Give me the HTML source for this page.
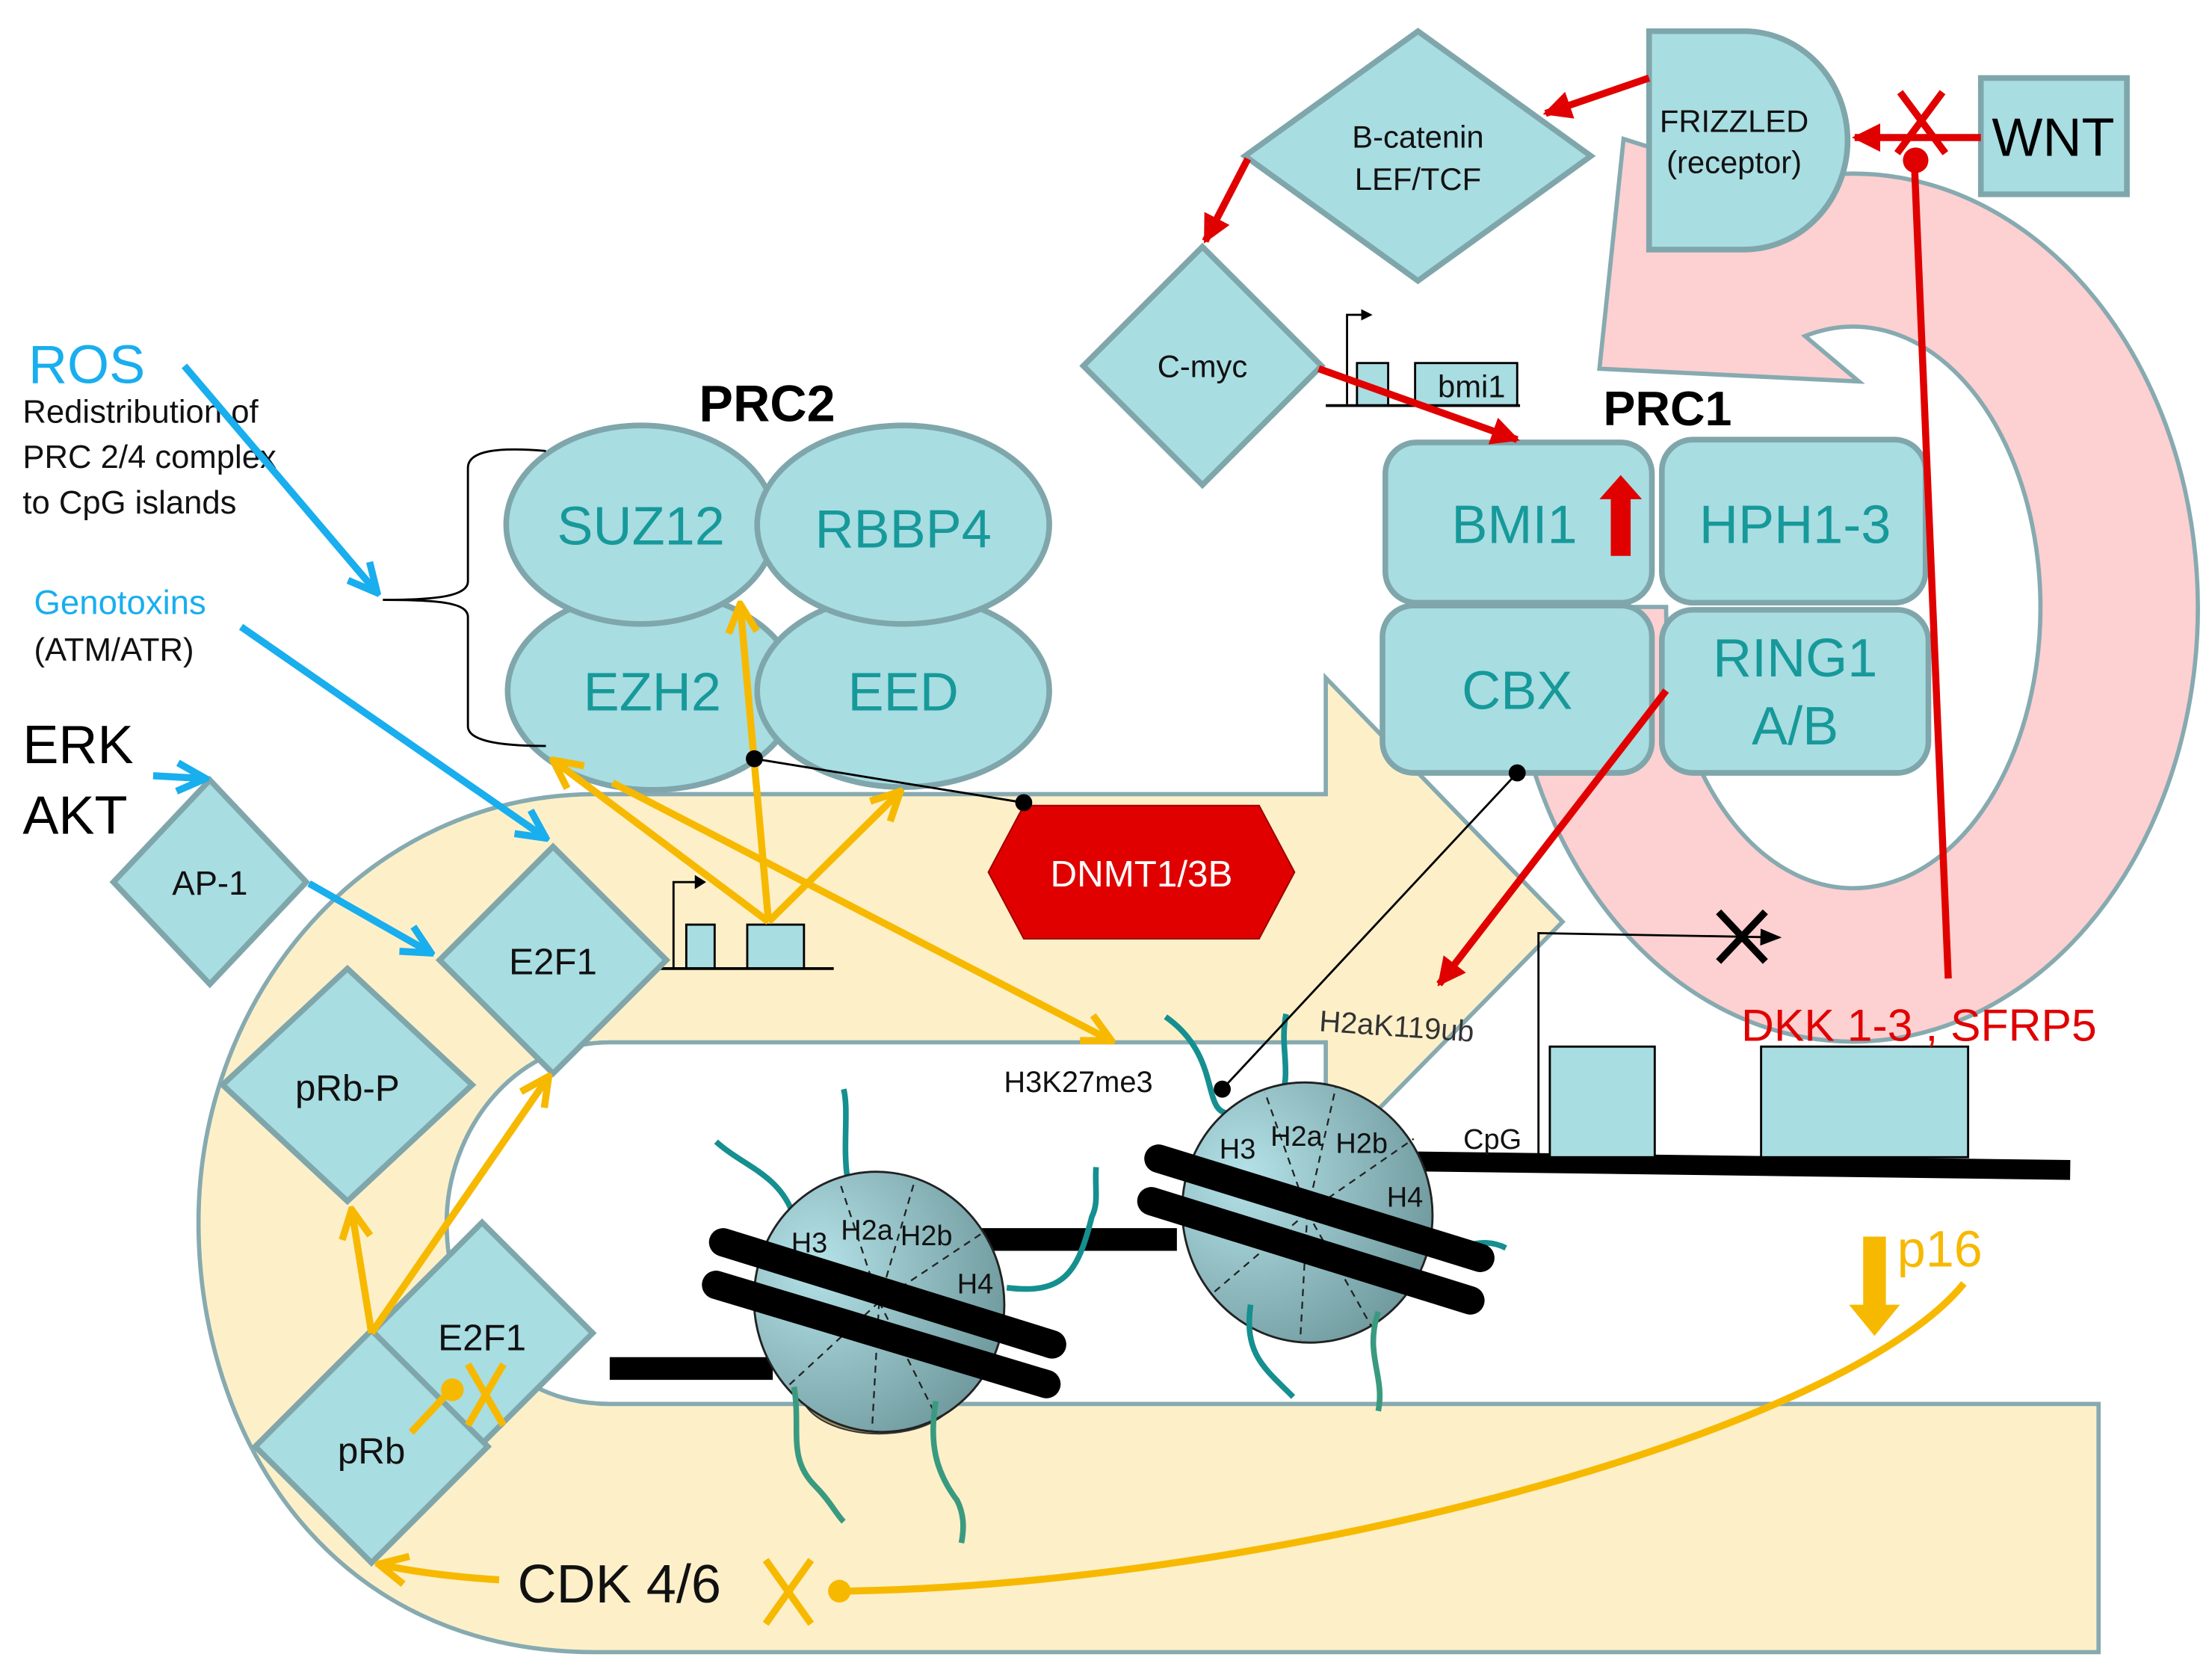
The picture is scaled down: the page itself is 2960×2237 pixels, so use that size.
<!DOCTYPE html>
<html><head><meta charset="utf-8"><style>
html,body{margin:0;padding:0;background:#fff;}
svg{display:block;}
text{font-family:"Liberation Sans",sans-serif;}
</style></head><body>
<svg width="2960" height="2237" viewBox="0 0 1560 1179" preserveAspectRatio="none" xmlns="http://www.w3.org/2000/svg">
<defs>
<marker id="ay" viewBox="0 0 10 10" refX="9" refY="5" markerWidth="5" markerHeight="5" orient="auto" markerUnits="strokeWidth"><path d="M1,1 L9,5 L1,9" fill="none" stroke="#f7b900" stroke-width="2"/></marker>
<marker id="ab" viewBox="0 0 10 10" refX="9" refY="5" markerWidth="5" markerHeight="5" orient="auto" markerUnits="strokeWidth"><path d="M1,1 L9,5 L1,9" fill="none" stroke="#19aeee" stroke-width="2"/></marker>
<marker id="ar" viewBox="0 0 10 10" refX="9" refY="5" markerWidth="4" markerHeight="4" orient="auto" markerUnits="strokeWidth"><path d="M0,0 L10,5 L0,10 Z" fill="#e00000"/></marker>
<marker id="ak" viewBox="0 0 10 10" refX="9" refY="5" markerWidth="10" markerHeight="10" orient="auto" markerUnits="strokeWidth"><path d="M0,1 L10,5 L0,9 Z" fill="#000"/></marker>
<radialGradient id="ng" cx="0.3" cy="0.3" r="0.8"><stop offset="0" stop-color="#b4e2e8"/><stop offset="1" stop-color="#6e989c"/></radialGradient>
</defs>

<path d="M1064,428 A243,306 0 1,0 1250,131 L1145,98 L1128,260 L1311,269 L1273,237 A132,198 0 1,1 1175,428 Z" fill="#fdd0d1" stroke="#86aab0" stroke-width="3"/>

<path d="M1480,1165 L420,1165 C230,1165 140,1010 140,862 C140,700 260,560 420,560 L935,560 L935,478 L1102,650 L935,820 L935,735 L430,735 C360,735 315,800 315,862 C315,935 360,990 430,990 L1480,990 Z" fill="#fdf0c9" stroke="#86aab0" stroke-width="3"/>

<line x1="430" y1="965" x2="545" y2="965" stroke="#000" stroke-width="16"/>
<line x1="690" y1="874" x2="830" y2="874" stroke="#000" stroke-width="16"/>
<line x1="1000" y1="819" x2="1460" y2="825" stroke="#000" stroke-width="14"/>

<g transform="translate(620,918)">
<path d="M-60,-60 C-70,-90 -95,-95 -115,-113" fill="none" stroke="#158f8f" stroke-width="4"/>
<path d="M-15,-65 C-30,-90 -20,-130 -25,-150" fill="none" stroke="#158f8f" stroke-width="4"/>
<path d="M90,-10 C130,-5 140,-20 150,-60 C155,-70 152,-80 153,-95" fill="none" stroke="#158f8f" stroke-width="4"/>
<ellipse cx="0" cy="63" rx="55" ry="30" fill="#9b9060" stroke="#333" stroke-width="1"/>
<ellipse cx="0" cy="0" rx="88" ry="92" transform="rotate(-15)" fill="url(#ng)" stroke="#222" stroke-width="1.5"/>
<g stroke="#222" stroke-width="1.2" stroke-dasharray="5,4" fill="none">
<line x1="0" y1="0" x2="-28" y2="-85"/><line x1="0" y1="0" x2="25" y2="-85"/><line x1="0" y1="0" x2="75" y2="-50"/>
<line x1="0" y1="0" x2="-65" y2="60"/><line x1="0" y1="0" x2="-5" y2="90"/><line x1="0" y1="0" x2="40" y2="80"/>
</g>
<text x="-62" y="-35" font-size="20" fill="#111">H3</text>
<text x="-27" y="-44" font-size="20" fill="#111">H2a</text>
<text x="15" y="-40" font-size="20" fill="#111">H2b</text>
<text x="55" y="-6" font-size="20" fill="#111">H4</text>
<g stroke="#000" stroke-width="20" stroke-linecap="round" fill="none">
<line x1="-110" y1="-42" x2="122" y2="30"/>
<line x1="-115" y1="-12" x2="118" y2="58"/>
</g>
<path d="M-60,60 C-55,90 -65,110 -45,130 C-35,140 -30,150 -25,155" fill="none" stroke="#3a9a80" stroke-width="4"/>
<path d="M40,70 C35,100 40,120 55,140 C60,150 60,160 58,170" fill="none" stroke="#3a9a80" stroke-width="4"/>
</g>

<g transform="translate(922,855)">
<path d="M-55,-70 C-75,-70 -60,-110 -100,-138" fill="none" stroke="#158f8f" stroke-width="4"/>
<path d="M-20,-75 C-10,-100 -20,-115 -15,-140" fill="none" stroke="#158f8f" stroke-width="4"/>
<path d="M88,20 C110,30 120,15 140,25" fill="none" stroke="#158f8f" stroke-width="4"/>
<ellipse cx="0" cy="0" rx="88" ry="92" transform="rotate(-15)" fill="url(#ng)" stroke="#222" stroke-width="1.5"/>
<g stroke="#222" stroke-width="1.2" stroke-dasharray="5,4" fill="none">
<line x1="0" y1="0" x2="-30" y2="-85"/><line x1="0" y1="0" x2="20" y2="-88"/><line x1="0" y1="0" x2="75" y2="-52"/>
<line x1="0" y1="0" x2="-68" y2="58"/><line x1="0" y1="0" x2="-5" y2="90"/><line x1="0" y1="0" x2="45" y2="80"/>
</g>
<text x="-62" y="-38" font-size="20" fill="#111">H3</text>
<text x="-26" y="-47" font-size="20" fill="#111">H2a</text>
<text x="20" y="-42" font-size="20" fill="#111">H2b</text>
<text x="56" y="-4" font-size="20" fill="#111">H4</text>
<g stroke="#000" stroke-width="20" stroke-linecap="round" fill="none">
<line x1="-105" y1="-38" x2="122" y2="32"/>
<line x1="-110" y1="-8" x2="115" y2="62"/>
</g>
<path d="M-40,65 C-45,100 -30,110 -10,130" fill="none" stroke="#158f8f" stroke-width="4"/>
<path d="M50,70 C40,100 55,115 50,140" fill="none" stroke="#3a9a80" stroke-width="4"/>
</g>

<polyline points="1085,815 1085,658 1255,661" fill="none" stroke="#000" stroke-width="1.5" marker-end="url(#ak)"/>
<path d="M1212,643 L1245,678 M1245,643 L1212,678" stroke="#000" stroke-width="5"/>
<rect x="1093" y="738" width="74" height="78" fill="#a8dde2" stroke="#000" stroke-width="1.5"/>
<rect x="1242" y="738" width="146" height="78" fill="#a8dde2" stroke="#000" stroke-width="1.5"/>
<text x="1032" y="810" font-size="20" fill="#111">CpG</text>
<text x="930" y="727" font-size="21" fill="#333" transform="rotate(4 930 727)">H2aK119ub</text>
<text x="708" y="770" font-size="21" fill="#111">H3K27me3</text>

<polyline points="475,682 475,622 492,622" fill="none" stroke="#000" stroke-width="1.5"/>
<path d="M490,617 L498,622 L490,627 Z" fill="#000"/>
<rect x="484" y="652" width="20" height="31" fill="#a8dde2" stroke="#000" stroke-width="1.5"/>
<rect x="527" y="652" width="40" height="31" fill="#a8dde2" stroke="#000" stroke-width="1.5"/>
<line x1="465" y1="683" x2="588" y2="683" stroke="#000" stroke-width="2"/>

<polyline points="950,285 950,222 962,222" fill="none" stroke="#000" stroke-width="1.5"/>
<path d="M960,218 L968,222 L960,226 Z" fill="#000"/>
<rect x="957" y="256" width="22" height="30" fill="#a8dde2" stroke="#000" stroke-width="1.5"/>
<rect x="998" y="256" width="72" height="30" fill="#a8dde2" stroke="#000" stroke-width="1.5"/>
<text x="1014" y="280" font-size="22" fill="#111">bmi1</text>
<line x1="935" y1="286" x2="1072" y2="286" stroke="#000" stroke-width="2"/>

<g fill="#a8dde2" stroke="#7fa6ab" stroke-width="4">
<ellipse cx="460" cy="487" rx="102" ry="70"/>
<ellipse cx="637" cy="487" rx="103" ry="68"/>
<ellipse cx="452" cy="370" rx="95" ry="70"/>
<ellipse cx="637" cy="370" rx="103" ry="70"/>
</g>
<g fill="#17999a" font-size="38" text-anchor="middle">
<text x="452" y="384">SUZ12</text><text x="637" y="386">RBBP4</text>
<text x="460" y="501">EZH2</text><text x="637" y="501">EED</text>
</g>
<text x="541" y="297" font-size="36" font-weight="bold" text-anchor="middle" fill="#000">PRC2</text>
<path d="M385,318 C350,315 330,318 330,330 L330,410 C330,420 310,423 270,423 C310,423 330,425 330,435 L330,512 C330,522 350,526 385,526" fill="none" stroke="#000" stroke-width="1.5"/>

<g fill="#a8dde2" stroke="#7fa6ab" stroke-width="4">
<rect x="977" y="312" width="188" height="113" rx="22"/>
<rect x="1172" y="310" width="186" height="115" rx="22"/>
<rect x="975" y="427" width="190" height="118" rx="22"/>
<rect x="1172" y="430" width="188" height="115" rx="22"/>
</g>
<g fill="#17999a" font-size="38" text-anchor="middle">
<text x="1068" y="383">BMI1</text><text x="1266" y="383">HPH1-3</text>
<text x="1070" y="500">CBX</text><text x="1266" y="477">RING1</text><text x="1266" y="525">A/B</text>
</g>
<text x="1176" y="300" font-size="34" font-weight="bold" text-anchor="middle" fill="#000">PRC1</text>
<path d="M1143,335 L1128,352 L1136,352 L1136,392 L1150,392 L1150,352 L1158,352 Z" fill="#e00000"/>

<path d="M1163,22 L1230,22 A73,77 0 0,1 1230,176 L1163,176 Z" fill="#a8dde2" stroke="#7fa6ab" stroke-width="4"/>
<text x="1223" y="93" font-size="22" text-anchor="middle" fill="#111">FRIZZLED</text>
<text x="1223" y="122" font-size="22" text-anchor="middle" fill="#111">(receptor)</text>
<rect x="1397" y="55" width="103" height="82" fill="#a8dde2" stroke="#7fa6ab" stroke-width="4"/>
<text x="1448" y="110" font-size="38" text-anchor="middle" fill="#000">WNT</text>
<polygon points="1000,22 1122,110 1000,198 878,110" fill="#a8dde2" stroke="#7fa6ab" stroke-width="4"/>
<text x="1000" y="104" font-size="22" text-anchor="middle" fill="#111">B-catenin</text>
<text x="1000" y="134" font-size="22" text-anchor="middle" fill="#111">LEF/TCF</text>
<polygon points="848,174 932,258 848,342 764,258" fill="#a8dde2" stroke="#7fa6ab" stroke-width="4"/>
<text x="848" y="266" font-size="22" text-anchor="middle" fill="#111">C-myc</text>

<polygon points="697,615 722,568 888,568 913,615 888,662 722,662" fill="#e00000" stroke="#9a0000" stroke-width="1"/>
<text x="805" y="625" font-size="26" text-anchor="middle" fill="#fff">DNMT1/3B</text>

<g fill="#a8dde2" stroke="#7fa6ab" stroke-width="4">
<polygon points="148,550 216,622 148,694 80,622"/>
<polygon points="390,597 470,677 390,757 310,677"/>
<polygon points="245,683 333,765 245,847 157,765"/>
<polygon points="340,862 418,940 340,1018 262,940"/>
<polygon points="262,938 344,1020 262,1102 180,1020"/>
</g>
<g fill="#111" font-size="24" text-anchor="middle">
<text x="148" y="631">AP-1</text><text x="390" y="687" font-size="26">E2F1</text>
<text x="245" y="776" font-size="26">pRb-P</text><text x="340" y="952" font-size="26">E2F1</text>
<text x="262" y="1032" font-size="26">pRb</text>
</g>

<text x="20" y="270" font-size="38" fill="#19aeee">ROS</text>
<g font-size="23" fill="#111"><text x="16" y="298">Redistribution of</text><text x="16" y="330">PRC 2/4 complex</text><text x="16" y="362">to CpG islands</text></g>
<text x="24" y="433" font-size="24" fill="#19aeee">Genotoxins</text>
<text x="24" y="466" font-size="23" fill="#111">(ATM/ATR)</text>
<text x="16" y="538" font-size="38" fill="#000">ERK</text>
<text x="16" y="588" font-size="38" fill="#000">AKT</text>

<g stroke="#19aeee" stroke-width="5" fill="none">
<line x1="130" y1="258" x2="266" y2="418" marker-end="url(#ab)"/>
<line x1="170" y1="442" x2="385" y2="591" marker-end="url(#ab)"/>
<line x1="108" y1="547" x2="145" y2="549" marker-end="url(#ab)"/>
<line x1="218" y1="623" x2="304" y2="672" marker-end="url(#ab)"/>
</g>

<g stroke="#f7b900" stroke-width="5" fill="none">
<line x1="542" y1="650" x2="522" y2="426" marker-end="url(#ay)"/>
<line x1="542" y1="650" x2="635" y2="558" marker-end="url(#ay)"/>
<line x1="542" y1="650" x2="390" y2="536" marker-end="url(#ay)"/>
<line x1="432" y1="552" x2="784" y2="734" marker-end="url(#ay)"/>
<line x1="262" y1="940" x2="248" y2="853" marker-end="url(#ay)"/>
<line x1="262" y1="940" x2="387" y2="759" marker-end="url(#ay)"/>
<line x1="290" y1="1010" x2="318" y2="980"/>
<path d="M352,1114 C320,1112 290,1108 267,1103" marker-end="url(#ay)"/>
<path d="M592,1122 C900,1118 1300,1010 1385,905"/>
</g>
<circle cx="319" cy="980" r="8" fill="#f7b900"/>
<path d="M330,962 L355,1005 M355,962 L330,1005" stroke="#f7b900" stroke-width="5"/>
<circle cx="592" cy="1122" r="8" fill="#f7b900"/>
<path d="M540,1100 L572,1145 M572,1100 L540,1145" stroke="#f7b900" stroke-width="5"/>
<text x="365" y="1130" font-size="38" fill="#111">CDK 4/6</text>
<path d="M1314,872 L1330,872 L1330,920 L1340,920 L1322,942 L1304,920 L1314,920 Z" fill="#f7b900"/>
<text x="1338" y="893" font-size="36" fill="#f7b900">p16</text>

<line x1="532" y1="535" x2="722" y2="566" stroke="#000" stroke-width="1.5"/>
<circle cx="532" cy="535" r="6" fill="#000"/><circle cx="722" cy="566" r="6" fill="#000"/>
<line x1="1070" y1="545" x2="862" y2="768" stroke="#000" stroke-width="1.5"/>
<circle cx="1070" cy="545" r="6" fill="#000"/><circle cx="862" cy="768" r="6" fill="#000"/>

<g stroke="#e00000" stroke-width="5" fill="none">
<line x1="1163" y1="55" x2="1090" y2="80" marker-end="url(#ar)"/>
<line x1="880" y1="112" x2="850" y2="170" marker-end="url(#ar)"/>
<line x1="930" y1="260" x2="1070" y2="310" marker-end="url(#ar)"/>
<line x1="1175" y1="487" x2="1015" y2="694" marker-end="url(#ar)"/>
<line x1="1397" y1="97" x2="1308" y2="97" marker-end="url(#ar)"/>
<line x1="1350" y1="112" x2="1374" y2="690"/>
</g>
<circle cx="1351" cy="113" r="9" fill="#e00000"/>
<path d="M1340,65 L1372,108 M1370,65 L1338,108" stroke="#e00000" stroke-width="5"/>
<text x="1228" y="734" font-size="32" fill="#e00000">DKK 1-3 , SFRP5</text>
</svg>
</body></html>
